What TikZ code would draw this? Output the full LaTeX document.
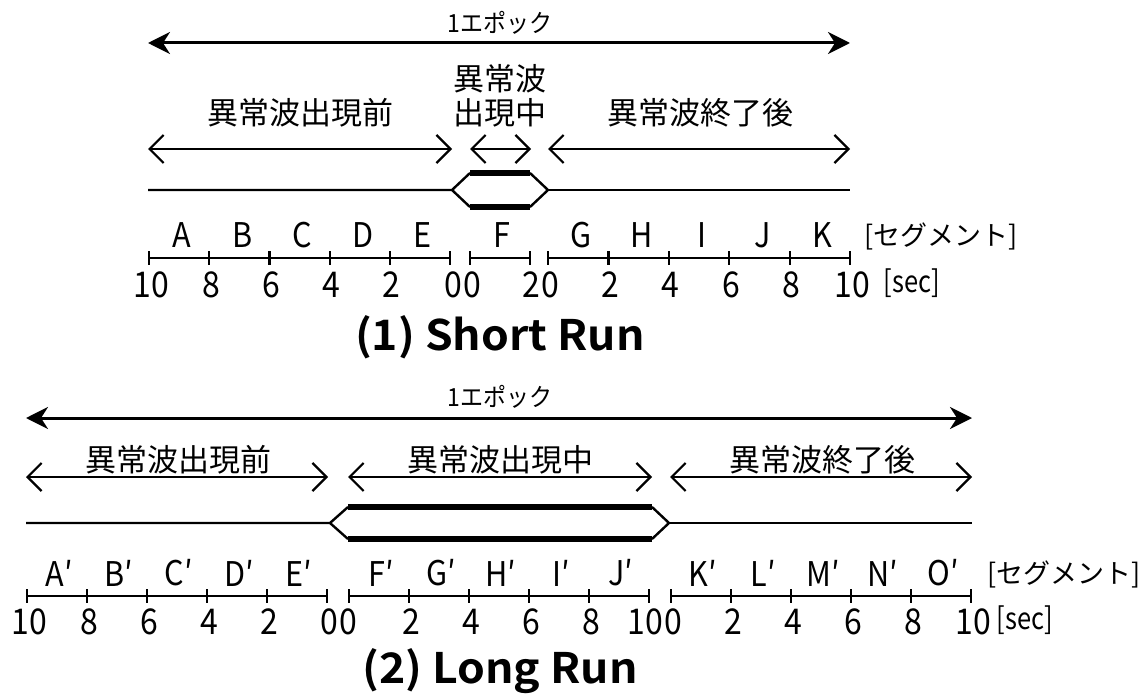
\documentclass[tikz,border=0pt]{standalone}
\usepackage{fontspec}
\usetikzlibrary{arrows.meta}
\setmainfont{Noto Sans CJK JP}
\newfontfamily\jpfont{Noto Sans CJK JP}
\newfontfamily\jpepoch[FakeStretch=0.92]{Noto Sans CJK JP}
\newfontfamily\jpnarrow[FakeStretch=0.9]{Noto Sans CJK JP}
\newfontfamily\jpunit[FakeStretch=0.85]{Noto Sans CJK JP}
\newfontfamily\jpbold[FakeStretch=1.06]{Noto Sans CJK JP Bold}

\tikzset{
  epoch/.style={line width=3pt,
    {Stealth[length=22pt,width=22pt,inset=7pt]}-{Stealth[length=22pt,width=22pt,inset=7pt]}},
  span/.style={line width=2.2pt,
    {Straight Barb[length=14pt,width=28pt]}-{Straight Barb[length=14pt,width=28pt]}},
  tline/.style={line width=2.4pt},
  heavy/.style={line width=6pt},
  ruler/.style={line width=2.2pt},
  epochtxt/.style={font=\jpepoch\fontsize{25}{25}\selectfont, inner sep=0pt},
  phasetxt/.style={font=\jpfont\fontsize{31}{34}\selectfont, inner sep=0pt, align=center},
  segtxt/.style={font=\jpnarrow\fontsize{34}{34}\selectfont, inner sep=0pt},
  numtxt/.style={font=\jpnarrow\fontsize{35.5}{35.5}\selectfont, inner sep=0pt},
  unittxt/.style={font=\jpunit\fontsize{30}{30}\selectfont, inner sep=0pt},
  segunit/.style={font=\jpfont\fontsize{27}{27}\selectfont, inner sep=0pt},
  titletxt/.style={font=\jpbold\fontsize{42}{42}\selectfont, inner sep=0pt},
}

\begin{document}
\begin{tikzpicture}[x=1pt,y=-1pt]
\useasboundingbox (0,0) rectangle (1143,698);

% ===================== (1) Short Run =====================
\coordinate (s-ep-l) at (148,43);
\coordinate (s-ep-r) at (850,43);
\draw[epoch] (s-ep-l) -- (s-ep-r);
\node[epochtxt] (s-ep-t) at (500,23) {1エポック};

\node[phasetxt] (s-ph1) at (300,113) {異常波出現前};
\node[phasetxt] (s-ph2) at (500,96) {異常波\\出現中};
\node[phasetxt] (s-ph3) at (700,113) {異常波終了後};

\coordinate (s-a1l) at (148,149); \coordinate (s-a1r) at (452,149);
\coordinate (s-a2l) at (470,149); \coordinate (s-a2r) at (531,149);
\coordinate (s-a3l) at (548,149); \coordinate (s-a3r) at (850,149);
\draw[span] (s-a1l) -- (s-a1r);
\draw[span] (s-a2l) -- (s-a2r);
\draw[span] (s-a3l) -- (s-a3r);

% timeline with the split section
\coordinate (s-t0) at (148,190);
\coordinate (s-hl) at (452,190);
\coordinate (s-tl) at (470,173);
\coordinate (s-tr) at (530,173);
\coordinate (s-bl) at (470,207);
\coordinate (s-br) at (530,207);
\coordinate (s-hr) at (548,190);
\coordinate (s-t1) at (850,190);
\draw[tline] (s-t0) -- (s-hl) -- (s-tl);
\draw[tline] (s-hl) -- (s-bl);
\draw[tline] (s-tr) -- (s-hr) -- (s-br);
\draw[tline] (s-hr) -- (s-t1);
\draw[heavy] (s-tl) -- (s-tr);
\draw[heavy] (s-bl) -- (s-br);

% rulers
\coordinate (s-r1l) at (149,258); \coordinate (s-r1r) at (450,258);
\coordinate (s-r2l) at (470,258); \coordinate (s-r2r) at (530,258);
\coordinate (s-r3l) at (548,258); \coordinate (s-r3r) at (850,258);
\draw[ruler] (s-r1l) -- (s-r1r);
\draw[ruler] (s-r2l) -- (s-r2r);
\draw[ruler] (s-r3l) -- (s-r3r);
\foreach \i in {0,...,5} {
  \draw[ruler] ({149+\i*60.2},251) -- ({149+\i*60.2},265);
  \draw[ruler] ({548+\i*60.4},251) -- ({548+\i*60.4},265);
}
\draw[ruler] (470,251) -- (470,265);
\draw[ruler] (530,251) -- (530,265);

% segment letters
\foreach \l [count=\i from 0] in {A,B,C,D,E} {
  \node[segtxt] (s-seg-\l) at ({182+\i*60.2},235) {\l};
}
\node[segtxt] (s-seg-F) at (502,235) {F};
\foreach \l [count=\i from 0] in {G,H,I,J,K} {
  \node[segtxt] (s-seg-\l) at ({581+\i*60.4},235) {\l};
}
\node[segunit] (s-segunit) at (941,236) {[セグメント]};

% second labels
\foreach \n [count=\i from 0] in {10,8,6,4,2} {
  \node[numtxt] (s-num1-\i) at ({151+\i*60.2},285) {\n};
}
\node[numtxt,anchor=east] (s-num1-5) at (462,285) {0};
\node[numtxt,anchor=west] (s-num2-0) at (463,285) {0};
\node[numtxt,anchor=east] (s-num2-1) at (540,285) {2};
\node[numtxt,anchor=west] (s-num3-0) at (541,285) {0};
\foreach \n [count=\i from 1] in {2,4,6,8,10} {
  \node[numtxt] (s-num3-\i) at ({550+\i*60.4},285) {\n};
}
\node[unittxt] (s-secunit) at (912,283) {[sec]};

\node[titletxt] (s-title) at (500,337) {(1) Short Run};

% ===================== (2) Long Run =====================
\coordinate (l-ep-l) at (26,418);
\coordinate (l-ep-r) at (972,418);
\draw[epoch] (l-ep-l) -- (l-ep-r);
\node[epochtxt] (l-ep-t) at (500,397) {1エポック};

\node[phasetxt] (l-ph1) at (178,460) {異常波出現前};
\node[phasetxt] (l-ph2) at (500,460) {異常波出現中};
\node[phasetxt] (l-ph3) at (822,460) {異常波終了後};

\coordinate (l-a1l) at (26,477);  \coordinate (l-a1r) at (328,477);
\coordinate (l-a2l) at (348,477); \coordinate (l-a2r) at (652,477);
\coordinate (l-a3l) at (670,477); \coordinate (l-a3r) at (972,477);
\draw[span] (l-a1l) -- (l-a1r);
\draw[span] (l-a2l) -- (l-a2r);
\draw[span] (l-a3l) -- (l-a3r);

\coordinate (l-t0) at (26,523);
\coordinate (l-hl) at (330,523);
\coordinate (l-tl) at (348,507);
\coordinate (l-tr) at (652,507);
\coordinate (l-bl) at (348,539);
\coordinate (l-br) at (652,539);
\coordinate (l-hr) at (669,523);
\coordinate (l-t1) at (972,523);
\draw[tline] (l-t0) -- (l-hl) -- (l-tl);
\draw[tline] (l-hl) -- (l-bl);
\draw[tline] (l-tr) -- (l-hr) -- (l-br);
\draw[tline] (l-hr) -- (l-t1);
\draw[heavy] (l-tl) -- (l-tr);
\draw[heavy] (l-bl) -- (l-br);

\coordinate (l-r1l) at (27,596);  \coordinate (l-r1r) at (327,596);
\coordinate (l-r2l) at (349,596); \coordinate (l-r2r) at (649,596);
\coordinate (l-r3l) at (671,596); \coordinate (l-r3r) at (971,596);
\draw[ruler] (l-r1l) -- (l-r1r);
\draw[ruler] (l-r2l) -- (l-r2r);
\draw[ruler] (l-r3l) -- (l-r3r);
\foreach \i in {0,...,5} {
  \draw[ruler] ({27+\i*60},589) -- ({27+\i*60},603);
  \draw[ruler] ({349+\i*60},589) -- ({349+\i*60},603);
  \draw[ruler] ({671+\i*60},589) -- ({671+\i*60},603);
}

\foreach \l [count=\i from 0] in {A,B,C,D,E,F,G,H,I,J,K,L,M,N,O} {
  \pgfmathsetmacro{\xx}{59+\i*60+(\i>4)*22+(\i>9)*22}
  \node[segtxt] (l-seg-\l) at (\xx,573) {\l′};
}
\node[segunit] (l-segunit) at (1064,574) {[セグメント]};

\foreach \n [count=\i from 0] in {10,8,6,4,2} {
  \node[numtxt] (l-num1-\i) at ({29+\i*60},622) {\n};
}
\node[numtxt,anchor=east] (l-num1-5) at (338,622) {0};
\node[numtxt,anchor=west] (l-num2-0) at (339,622) {0};
\foreach \n [count=\i from 1] in {2,4,6,8} {
  \node[numtxt] (l-num2-\i) at ({351+\i*60},622) {\n};
}
\node[numtxt,anchor=east] (l-num2-5) at (663,622) {10};
\node[numtxt,anchor=west] (l-num3-0) at (664,622) {0};
\foreach \n [count=\i from 1] in {2,4,6,8,10} {
  \node[numtxt] (l-num3-\i) at ({673+\i*60},622) {\n};
}
\node[unittxt] (l-secunit) at (1025,620) {[sec]};

\node[titletxt] (l-title) at (500,671) {(2) Long Run};
\end{tikzpicture}
\end{document}
